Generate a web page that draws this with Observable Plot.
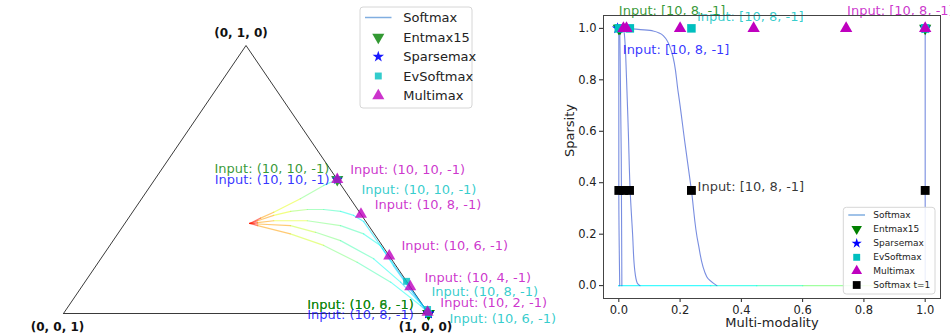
<!DOCTYPE html>
<html><head><meta charset="utf-8">
<script src="https://cdn.jsdelivr.net/npm/d3@7"></script>
<script src="https://cdn.jsdelivr.net/npm/@observablehq/plot@0.6"></script>
<style>
body{margin:0;background:#fff;}
#wrap{position:relative;width:950px;height:334px;overflow:hidden;}
#wrap svg{position:absolute;top:0;overflow:visible;background:transparent;}
</style>
</head><body><div id="wrap"></div>
<script>
// ---------------- data: left panel (probability simplex, values p1, p2; p3 = 1-p1-p2) ----------------
const vertexLabels = ["(0, 0, 1)", "(1, 0, 0)", "(0, 1, 0)"];
const vertexP1 = [0, 1, 0];
const vertexP2 = [0, 0, 1];
const inputs = ["(10, 10, -1)", "(10, 8, -1)", "(10, 6, -1)", "(10, 4, -1)", "(10, 2, -1)"];
// softmax temperature paths: [p1, p2, colour value (temperature, jet scale)]
const pathA = [[0.342,0.336,0.85],[0.362,0.356,0.72],[0.387,0.378,0.6],[0.435,0.428,0.5],[0.474,0.478,0.42],[0.5,0.5,0.36]];
const pathB = [[0.342,0.336,0.85],[0.359,0.346,0.72],[0.393,0.366,0.6],[0.432,0.381,0.53],[0.474,0.388,0.48],[0.519,0.388,0.44],[0.569,0.381,0.4],[0.612,0.366,0.37],[0.651,0.343,0.35],[0.753,0.242,0.32],[0.88,0.117,0.3],[0.995,0.005,0.28]];
const pathC = [[0.342,0.336,0.85],[0.362,0.339,0.72],[0.403,0.346,0.6],[0.495,0.346,0.5],[0.595,0.328,0.45],[0.674,0.297,0.4],[0.741,0.254,0.36],[0.815,0.178,0.33],[0.9,0.095,0.3],[0.995,0.005,0.28]];
const pathD = [[0.342,0.336,0.85],[0.365,0.334,0.72],[0.458,0.328,0.57],[0.539,0.303,0.5],[0.623,0.272,0.45],[0.748,0.204,0.39],[0.865,0.117,0.34],[0.983,0.018,0.3],[0.995,0.005,0.28]];
const pathE = [[0.342,0.336,0.85],[0.368,0.328,0.72],[0.473,0.297,0.58],[0.586,0.254,0.5],[0.709,0.191,0.45],[0.838,0.117,0.39],[0.963,0.03,0.32],[0.995,0.005,0.28]];
const softmaxPaths = [pathA, pathB, pathC, pathD, pathE];
// method outputs per input, [p1, p2]
const entmaxSimplex = [[0.5,0.5],[1,0],[1,0],[1,0],[1,0]];
const sparsemaxSimplex = [[0.5,0.5],[1,0],[1,0],[1,0],[1,0]];
const evsoftmaxSimplex = [[0.5,0.5],[0.88,0.12],[0.99,0.015],[1,0],[1,0]];
const multimaxSimplex = [[0.5,0.5],[0.63,0.37],[0.785,0.215],[0.9,0.1],[0.995,0.005]];
// annotation anchors [text, p1, p2]
const entmaxNotes = [["Input: (10, 10, -1)",0.458,0.541],["Input: (10, 8, -1)",0.943,0.034],["Input: (10, 6, -1)",0.943,0.034]];
const sparsemaxNotes = [["Input: (10, 10, -1)",0.479,0.5],["Input: (10, 8, -1)",0.963,-0.006]];
const multimaxNotes = [["Input: (10, 10, -1)",0.517,0.537],["Input: (10, 8, -1)",0.649,0.407],["Input: (10, 6, -1)",0.799,0.254],["Input: (10, 4, -1)",0.922,0.134],["Input: (10, 2, -1)",1.012,0.041]];
const evsoftmaxNotes = [["Input: (10, 10, -1)",0.585,0.463],["Input: (10, 8, -1)",0.967,0.082],["Input: (10, 6, -1)",1.067,-0.019]];

// ---------------- data: right panel (multi-modality, sparsity) ----------------
const xTicks = [0, 0.2, 0.4, 0.6, 0.8, 1.0];
const yTicks = [0, 0.2, 0.4, 0.6, 0.8, 1.0];
const curveR1 = [[0.0,1.0],[0.0,0.37],[0.003,0.0]];
const curveR2 = [[0.003,1.0],[0.008,0.5],[0.01,0.0]];
const curveR3 = [[0.012,1.0],[0.018,0.98],[0.025,0.81],[0.031,0.6],[0.037,0.37],[0.045,0.2],[0.052,0.06],[0.06,0.01],[0.069,0.0]];
const curveR4 = [[0.02,1.0],[0.112,0.99],[0.145,0.972],[0.172,0.91],[0.194,0.75],[0.216,0.553],[0.237,0.37],[0.259,0.165],[0.287,0.035],[0.32,0.0]];
const curveR5 = [[1.0,0.0],[1.0,1.0]];
const softmaxCurves = [curveR1, curveR2, curveR3, curveR4, curveR5];
const baseLine = [[1.0,0,0.55],[0.8,0,0.5],[0.6,0,0.44],[0.45,0,0.4],[0.3,0,0.37],[0.0,0,0.35]];
const entmaxMM = [[0.0,1.0],[0.004,1.0],[1.0,1.0]];
const sparsemaxMM = [[-0.004,1.0],[1.0,1.0]];
const evsoftmaxMM = [[0.0,1.0],[0.036,1.0],[0.237,1.0],[1.0,1.0]];
const multimaxMM = [[0.015,1.0],[0.025,1.0],[0.2,1.0],[0.44,1.0],[0.742,1.0],[1.0,1.0]];
const softmaxT1MM = [[0.0,0.37],[0.016,0.37],[0.035,0.37],[0.237,0.37],[1.0,0.37]];
const mmNotes = [["green","Input: [10, 8, -1]",0.0,1.067],["c","Input: [10, 8, -1]",0.255,1.044],["m","Input: [10, 8, -1]",0.745,1.067],["b","Input: [10, 8, -1]",0.013,0.916],["k","Input: [10, 8, -1]",0.257,0.385]];

// ---------------- styling helpers ----------------
const FONT = "DejaVu Sans";
const COL = {green:"#008000", b:"#0000ff", c:"#00bfbf", m:"#bf00bf", k:"#000000"};
const jetColor = {type:"linear", domain:[0,0.125,0.375,0.625,0.875,1], range:["#00007f","#0000ff","#00ffff","#ffff00","#ff0000","#7f0000"], interpolate:"rgb"};
const triangleDown = {
  draw(ctx, size) {
    const y = -Math.sqrt(size / (Math.sqrt(3) * 3));
    ctx.moveTo(0, -2 * y);
    ctx.lineTo(-Math.sqrt(3) * y, y);
    ctx.lineTo(Math.sqrt(3) * y, y);
    ctx.closePath();
  }
};
const sx = d => d[0] + d[1] / 2;   // simplex projection
const sy = d => d[1];

function addLegend(svg, items, o) {
  const g = d3.select(svg).append("g").attr("font-family", FONT).attr("font-size", o.fontSize).attr("text-anchor", "start");
  g.append("rect").attr("x", o.x0).attr("y", o.y0).attr("width", o.x1 - o.x0).attr("height", o.y1 - o.y0)
    .attr("rx", 3).attr("fill", "white").attr("fill-opacity", 0.85).attr("stroke", "#d6d6d6");
  items.forEach((it, i) => {
    const y = o.rows[i];
    if (it.line) {
      g.append("line").attr("x1", o.l0).attr("x2", o.l1).attr("y1", y).attr("y2", y)
        .attr("stroke", it.color).attr("stroke-width", 1.5);
    } else {
      g.append("path").attr("transform", `translate(${o.mx},${y})`)
        .attr("d", d3.symbol().type(it.symbol).size(Math.PI * it.r * it.r)())
        .attr("fill", it.color).attr("fill-opacity", it.opacity ?? 1);
    }
    g.append("text").attr("x", o.tx).attr("y", y).attr("dy", "0.35em").attr("text-anchor", "start").attr("fill", "#222").text(it.label);
  });
}

// ---------------- left panel ----------------
const curveRows = softmaxPaths.flatMap((path, i) => path.map(([p1, p2, c]) => ({input: inputs[i], p: [p1, p2], c})));
const triangle = [0, 1, 2, 0].map(i => [vertexP1[i], vertexP2[i]]);
const vertexRows = vertexLabels.map((label, i) => ({label, p: [vertexP1[i], vertexP2[i]]}));
const noteRows = arr => arr.map(([text, p1, p2]) => ({text, p: [p1, p2]}));

const left = Plot.plot({
  width: 480, height: 334,
  marginLeft: 63, marginRight: 52, marginTop: 45, marginBottom: 21,
  x: {domain: [0, 1], axis: null},
  y: {domain: [0, 1], axis: null},
  color: jetColor,
  style: {fontFamily: FONT, overflow: "visible", background: "transparent"},
  marks: [
    Plot.line(triangle, {x: sx, y: sy, stroke: "#3a3a3a", strokeWidth: 1}),
    Plot.line(curveRows, {x: d => sx(d.p), y: d => sy(d.p), z: "input", stroke: "c", strokeOpacity: 0.55, strokeWidth: 1.2, curve: "catmull-rom"}),
    Plot.text(vertexRows.slice(0, 1), {x: d => sx(d.p), y: d => sy(d.p), text: "label", dx: -6, dy: 14, fontWeight: "bold", fontSize: 12, fill: "#111"}),
    Plot.text(vertexRows.slice(1, 2), {x: d => sx(d.p), y: d => sy(d.p), text: "label", dx: -3, dy: 14, fontWeight: "bold", fontSize: 12, fill: "#111"}),
    Plot.text(vertexRows.slice(2, 3), {x: d => sx(d.p), y: d => sy(d.p), text: "label", dx: -5, dy: -12, fontWeight: "bold", fontSize: 12, fill: "#111"}),
    Plot.dot(entmaxSimplex, {x: sx, y: sy, symbol: triangleDown, r: 4.5, fill: COL.green, fillOpacity: 0.8}),
    Plot.dot(sparsemaxSimplex, {x: sx, y: sy, symbol: "star", r: 3.6, fill: COL.b, fillOpacity: 0.8}),
    Plot.dot(evsoftmaxSimplex, {x: sx, y: sy, symbol: "square", r: 3.9, fill: COL.c, fillOpacity: 0.8}),
    Plot.dot(multimaxSimplex, {x: sx, y: sy, symbol: "triangle", r: 4.5, fill: COL.m, fillOpacity: 0.8}),
    Plot.text(noteRows(entmaxNotes), {x: d => sx(d.p), y: d => sy(d.p), text: "text", textAnchor: "end", fontSize: 13, fill: COL.green, fillOpacity: 0.8}),
    Plot.text(noteRows(sparsemaxNotes), {x: d => sx(d.p), y: d => sy(d.p), text: "text", textAnchor: "end", fontSize: 13, fill: COL.b, fillOpacity: 0.8}),
    Plot.text(noteRows(multimaxNotes), {x: d => sx(d.p), y: d => sy(d.p), text: "text", textAnchor: "start", fontSize: 13, fill: COL.m, fillOpacity: 0.8}),
    Plot.text(noteRows(evsoftmaxNotes), {x: d => sx(d.p), y: d => sy(d.p), text: "text", textAnchor: "start", fontSize: 13, fill: COL.c, fillOpacity: 0.8})
  ]
});
left.style.left = "0px";

// ---------------- right panel ----------------
const rCurveRows = softmaxCurves.flatMap((c, i) => c.map(([x, y]) => ({id: i, x, y})));
const baseRows = baseLine.map(([x, y, c]) => ({x, y, c}));
const right = Plot.plot({
  width: 470, height: 334,
  marginLeft: 123, marginRight: 10, marginTop: 15, marginBottom: 36,
  x: {domain: [-0.05, 1.05]},
  y: {domain: [-0.05, 1.05]},
  color: jetColor,
  style: {fontFamily: FONT, fontSize: "11.5px", color: "#222", overflow: "visible", background: "transparent"},
  marks: [
    Plot.axisX({ticks: xTicks, tickFormat: d => d.toFixed(1), tickSize: 4, tickPadding: 3, label: null, fontSize: 11.5}),
    Plot.axisY({ticks: yTicks, tickFormat: d => d.toFixed(1), tickSize: 4, tickPadding: 3, label: null, fontSize: 11.5}),
    Plot.text(["Multi-modality"], {text: d => d, frameAnchor: "bottom", dy: 28, fontSize: 13, fill: "#222"}),
    Plot.text(["Sparsity"], {text: d => d, frameAnchor: "left", dx: -34, rotate: -90, fontSize: 13, fill: "#222"}),
    Plot.line(baseRows, {x: "x", y: "y", stroke: "c", z: null, strokeOpacity: 0.75, strokeWidth: 1.4}),
    Plot.line(rCurveRows, {x: "x", y: "y", z: "id", stroke: "#3050d0", strokeOpacity: 0.65, strokeWidth: 1.1, curve: "monotone-y"}),
    Plot.dot(entmaxMM, {x: d => d[0], y: d => d[1], symbol: triangleDown, r: 4.5, fill: COL.green}),
    Plot.dot(sparsemaxMM, {x: d => d[0], y: d => d[1], symbol: "star", r: 3.6, fill: COL.b}),
    Plot.dot(evsoftmaxMM, {x: d => d[0], y: d => d[1], symbol: "square", r: 4.8, fill: COL.c}),
    Plot.dot(multimaxMM, {x: d => d[0], y: d => d[1], symbol: "triangle", r: 4.6, fill: COL.m}),
    Plot.dot(softmaxT1MM, {x: d => d[0], y: d => d[1], symbol: "square", r: 5, fill: COL.k}),
    Plot.text(mmNotes, {x: d => d[2], y: d => d[3], text: d => d[1], textAnchor: "start", fontSize: 13, fill: d => COL[d[0]], fillOpacity: 0.8}),
    Plot.frame({stroke: "#444"})
  ]
});
right.style.left = "480px";

const wrap = document.getElementById("wrap");
wrap.appendChild(right);
wrap.appendChild(left);

addLegend(left, [
  {label: "Softmax", line: true, color: "#80aee0"},
  {label: "Entmax15", symbol: triangleDown, r: 4.5, color: COL.green, opacity: 0.8},
  {label: "Sparsemax", symbol: d3.symbolStar, r: 3.6, color: COL.b, opacity: 0.9},
  {label: "EvSoftmax", symbol: d3.symbolSquare, r: 3.9, color: COL.c, opacity: 0.8},
  {label: "Multimax", symbol: d3.symbolTriangle, r: 4.5, color: COL.m, opacity: 0.8}
], {x0: 360, y0: 7, x1: 472, y1: 108, rows: [17.5, 37.3, 56.7, 76, 95.7], l0: 365, l1: 391.5, mx: 378.3, tx: 403.3, fontSize: 13});

addLegend(right, [
  {label: "Softmax", line: true, color: "#80aee0"},
  {label: "Entmax15", symbol: triangleDown, r: 3.9, color: COL.green},
  {label: "Sparsemax", symbol: d3.symbolStar, r: 3.2, color: COL.b},
  {label: "EvSoftmax", symbol: d3.symbolSquare, r: 3.9, color: COL.c},
  {label: "Multimax", symbol: d3.symbolTriangle, r: 4.0, color: COL.m},
  {label: "Softmax t=1", symbol: d3.symbolSquare, r: 4.4, color: COL.k}
], {x0: 363.3, y0: 207.3, x1: 455, y1: 294, rows: [215, 229, 243.3, 257.3, 271, 285], l0: 368.3, l1: 385, mx: 376.7, tx: 393.3, fontSize: 9});
</script></body></html>
